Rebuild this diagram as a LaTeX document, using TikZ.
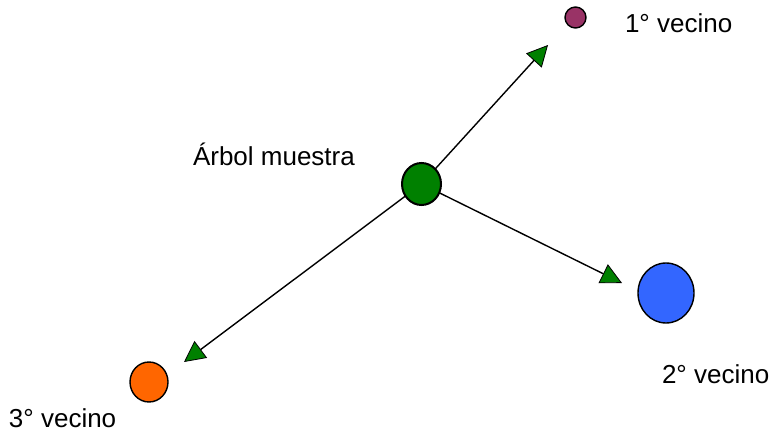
\documentclass[tikz,border=0pt]{standalone}
\usepackage{fontspec}
\setmainfont{Liberation Sans}
\usetikzlibrary{arrows.meta,shapes.geometric}
\definecolor{treegreen}{HTML}{008000}
\definecolor{nbpurple}{HTML}{993366}
\definecolor{nbblue}{HTML}{3366FF}
\definecolor{nborange}{HTML}{FF6600}
\tikzset{
  dot/.style={ellipse, draw=black, line width=1.4pt, inner sep=0pt, outer sep=0pt},
  lbl/.style={anchor=base west, inner sep=0pt, outer sep=0pt, font=\fontsize{26}{30}\selectfont},
  conn/.style={line width=1.4pt, draw=black,
    -{Triangle[length=21pt,width=21pt,fill=treegreen,line width=0.8pt]}}
}
\begin{document}
\begin{tikzpicture}[x=1pt,y=-1pt]
\useasboundingbox (0,0) rectangle (776,433);
\node[dot, fill=treegreen, line width=2pt, minimum width=39pt, minimum height=42pt] (g) at (421.5,184) {};
\node[dot, fill=nbpurple, minimum width=21pt, minimum height=21pt] (p) at (575.5,17.5) {};
\node[dot, fill=nbblue, minimum width=56pt, minimum height=60pt] (b) at (666,293) {};
\node[dot, fill=nborange, minimum width=38pt, minimum height=40pt] (o) at (149,382) {};
\coordinate (t1) at (548,45);
\coordinate (t2) at (622,283);
\coordinate (t3) at (184,362);
\draw[conn] (g) -- (t1);
\draw[conn] (g) -- (t2);
\draw[conn] (g) -- (t3);
\node[lbl] (lg) at (193,165) {Árbol muestra};
\node[lbl] (lp) at (625,33) {1° vecino};
\node[lbl] (lb) at (662,383) {2° vecino};
\node[lbl] (lo) at (9,427) {3° vecino};
\end{tikzpicture}
\end{document}
